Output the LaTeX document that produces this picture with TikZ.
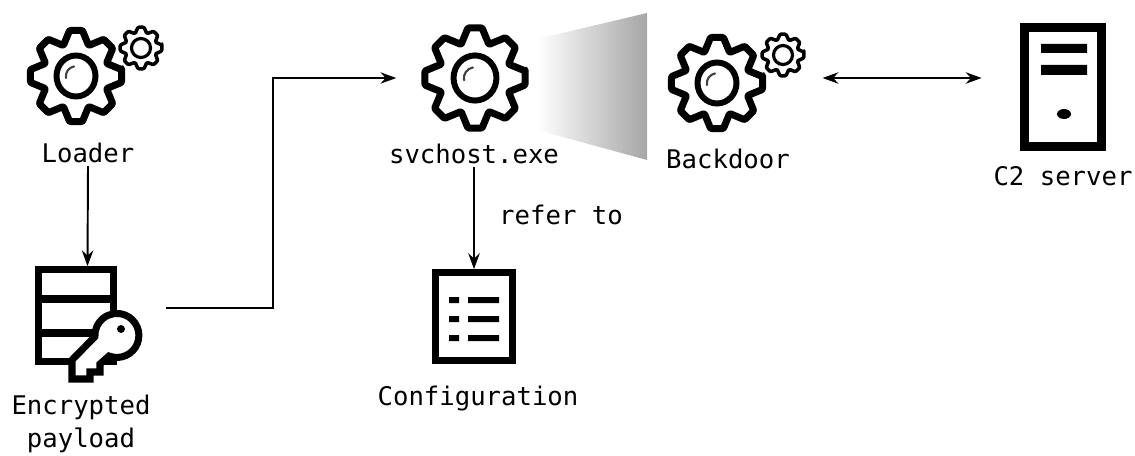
\documentclass[tikz,border=0pt]{standalone}
\usepackage{fontspec}
\setmonofont{DejaVu Sans Mono}
\usetikzlibrary{arrows.meta}
\tikzset{
	iconlabel/.style={inner sep=2pt,anchor=base,font=\ttfamily\fontsize{14.6}{18.7}\selectfont},
	iconspace/.style={inner sep=0pt,outer sep=0pt},
	cogline/.style={draw=black,line join=round,rounded corners=0.6pt},
	pics/bigcog/.style={code={
		\draw[cogline,line width=4pt] (-8:46) \foreach \a in {0,45,...,315}{ -- (\a-8:46) -- (\a+8:46) -- (\a+22.5:33)} -- cycle;
		\draw[line width=3.4pt] (0,0) ellipse [x radius=19.5,y radius=20.5];
		\draw[line width=1.2pt,black!75,line cap=round] (-10,2) arc [start angle=170,end angle=260,radius=10];
	}},
	pics/smallcog/.style={code={
		\draw[cogline,line width=2pt] (-8:21) \foreach \a in {0,45,...,315}{ -- (\a-8:21) -- (\a+8:21) -- (\a+22.5:15.5)} -- cycle;
		\draw[line width=1.8pt] (0,0) circle [radius=9.5];
	}},
}
\begin{document}
\begin{tikzpicture}[x=0.02cm,y=-0.02cm,>={Stealth[length=9pt,width=6.5pt]}]
	\useasboundingbox (0,0) rectangle (1135,456);
	\shade[left color=white,right color=black!35] (537,39) -- (647,13) -- (647,160) -- (537,130) -- cycle;

	\node[iconspace] (loader) at (76,76) {};
	\pic at (loader) {bigcog};
	\pic at (141,48) {smallcog};
	\node[iconlabel] (loaderlabel) at (88,162) {Loader};

	\node[iconspace,minimum width=74.3pt,minimum height=65.8pt] (payload) at (87.5,324) {};
	\draw[line width=4pt,line join=miter] (38.5,269.5) rectangle (113.5,361.5) (38.5,299) -- (113.5,299) (38.5,333) -- (113.5,333);
	\draw[line width=4pt,line join=miter,fill=white] (72,360) -- (72,379) -- (90,379) -- (90,372) -- (100,372) -- (100,364) -- (109,356) arc [start angle=111,end angle=-183,radius=22] -- cycle;
	\fill (121,329) circle [radius=4];
	\node[iconlabel,anchor=center,align=center] (payloadlabel) at (81,424) {Encrypted\\payload};

	\node[iconspace,minimum width=89.6pt,minimum height=30pt] (svchost) at (475,78) {};
	\pic[scale=1.1] at (svchost) {bigcog};
	\node[iconlabel] (svchostlabel) at (474,163) {svchost.exe};

	\node[iconspace,minimum width=120.2pt,minimum height=30pt] (backdoor) at (717,78) {};
	\pic at (717,83) {bigcog};
	\pic at (783,55) {smallcog};
	\node[iconlabel] (backdoorlabel) at (728,168) {Backdoor};

	\node[draw,line width=5pt,minimum width=43.7pt,minimum height=67.5pt,inner sep=0pt] (server) at (1063,87) {};
	\fill (1041,44) rectangle (1087,53) (1041,65) rectangle (1087,75);
	\fill (1064,114) ellipse [x radius=7,y radius=5];
	\node[iconlabel] (serverlabel) at (1063,185) {C2 server};

	\node[draw,line width=3.7pt,minimum width=44pt,minimum height=50.2pt,inner sep=0pt] (config) at (474,316.5) {};
	\foreach \y in {300,319,338} {
		\fill (449,\y-3) rectangle (459,\y+3) (468,\y-3) rectangle (499,\y+3);
	}
	\node[iconlabel] (configlabel) at (478,405) {Configuration};
	\node[iconlabel] (referlabel) at (561,224) {refer to};

	\coordinate (turn) at (273,200);

	\draw[->,line width=1.1pt] (loaderlabel.south) -- (payload.north);
	\draw[->,line width=1.1pt] (payload.east) ++(13,-16) -| (turn) |- (svchost.west);
	\draw[->,line width=1.1pt] (svchostlabel.south) -- (config.north);
	\draw[<->,line width=1.1pt] (backdoor.east) -- ([xshift=-22pt]server.west |- backdoor.east);
\end{tikzpicture}
\end{document}
